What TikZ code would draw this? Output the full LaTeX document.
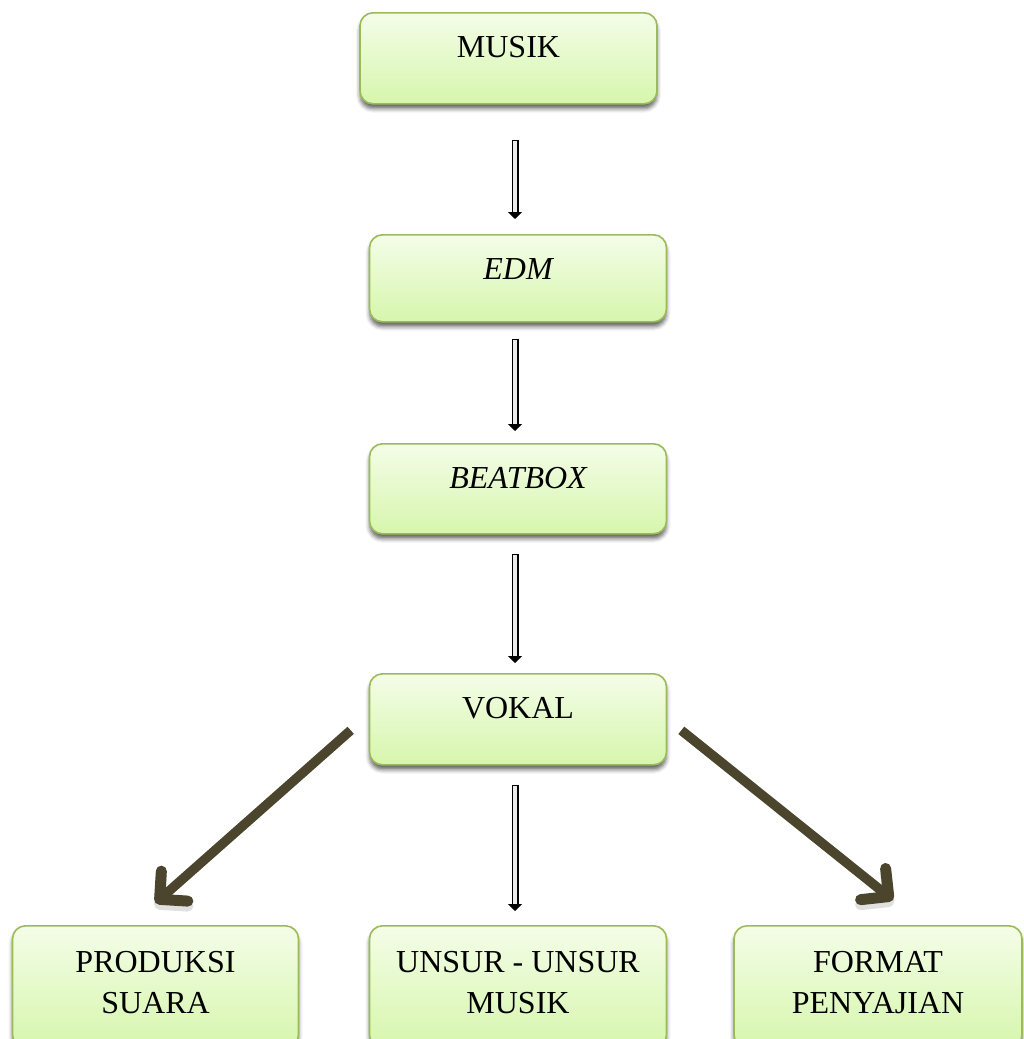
\documentclass[tikz,border=0pt]{standalone}
\usepackage{fontspec}
\setmainfont{Liberation Serif}
\usetikzlibrary{arrows.meta,shadows.blur}
\definecolor{boxborder}{HTML}{9BBB59}
\definecolor{boxtop}{HTML}{F4FDE8}
\definecolor{boxbottom}{HTML}{D6F6AC}
\definecolor{olivearrow}{HTML}{4B452D}
\tikzset{
  flowbox/.style={rectangle, rounded corners=13pt, draw=boxborder, line width=1.6pt,
    top color=boxtop, bottom color=boxbottom, inner sep=0pt,
    minimum width=297pt, text height=45pt, anchor=north,
    font=\fontsize{32}{41}\selectfont,
    blur shadow={shadow xshift=0pt, shadow yshift=-5pt, shadow blur radius=4pt, shadow opacity=60}},
  hollowouter/.style={line width=7pt, draw=black, -{Triangle[length=7pt,width=14pt]}},
  hollowinner/.style={line width=3.6pt, draw=gray!15, shorten <=1.7pt, shorten >=7pt},
  thickarrow/.style={line width=9.5pt, draw=olivearrow, line cap=butt,
    -{Straight Barb[round, length=20pt, width=40pt, line width=11pt]},
    preaction={draw=black, opacity=0.12, transform canvas={yshift=-5pt}}}
}
\newcommand\hollowconn[2]{\draw[hollowouter] #1 -- #2; \draw[hollowinner] #1 -- #2;}
\begin{document}
\begin{tikzpicture}[x=1pt,y=-1pt]
\useasboundingbox (0,0) rectangle (1024,1039);
\node[flowbox, text depth=46pt] (musik) at (508.5,12) {MUSIK};
\node[flowbox, text depth=42pt] (edm) at (518,234) {\itshape EDM};
\node[flowbox, text depth=45pt] (beatbox) at (518,443) {\itshape BEATBOX};
\node[flowbox, text depth=46pt] (vokal) at (518,673) {VOKAL};
\node[flowbox, minimum width=286pt, text height=47pt, text depth=75pt] (produksi) at (155.5,925)
  {\begin{tabular}[t]{@{}c@{}}PRODUKSI\\SUARA\end{tabular}};
\node[flowbox, text height=47pt, text depth=75pt] (unsur) at (518,925)
  {\begin{tabular}[t]{@{}c@{}}UNSUR - UNSUR\\MUSIK\end{tabular}};
\node[flowbox, minimum width=288pt, text height=47pt, text depth=75pt] (format) at (878,925)
  {\begin{tabular}[t]{@{}c@{}}FORMAT\\PENYAJIAN\end{tabular}};
\hollowconn{([xshift=6.5pt,yshift=-35pt]musik.south)}{([xshift=-3pt,yshift=15pt]edm.north)}
\hollowconn{([xshift=-3pt,yshift=-16pt]edm.south)}{([xshift=-3pt,yshift=12pt]beatbox.north)}
\hollowconn{([xshift=-3pt,yshift=-19pt]beatbox.south)}{([xshift=-3pt,yshift=10pt]vokal.north)}
\hollowconn{([xshift=-3pt,yshift=-19pt]vokal.south)}{([xshift=-3pt,yshift=14pt]unsur.north)}
\draw[thickarrow] ([xshift=-18pt,yshift=-11pt]vokal.west) -- ([xshift=0pt,yshift=22pt]produksi.north);
\draw[thickarrow] ([xshift=14pt,yshift=-11pt]vokal.east) -- ([xshift=15pt,yshift=25pt]format.north);
\end{tikzpicture}
\end{document}
